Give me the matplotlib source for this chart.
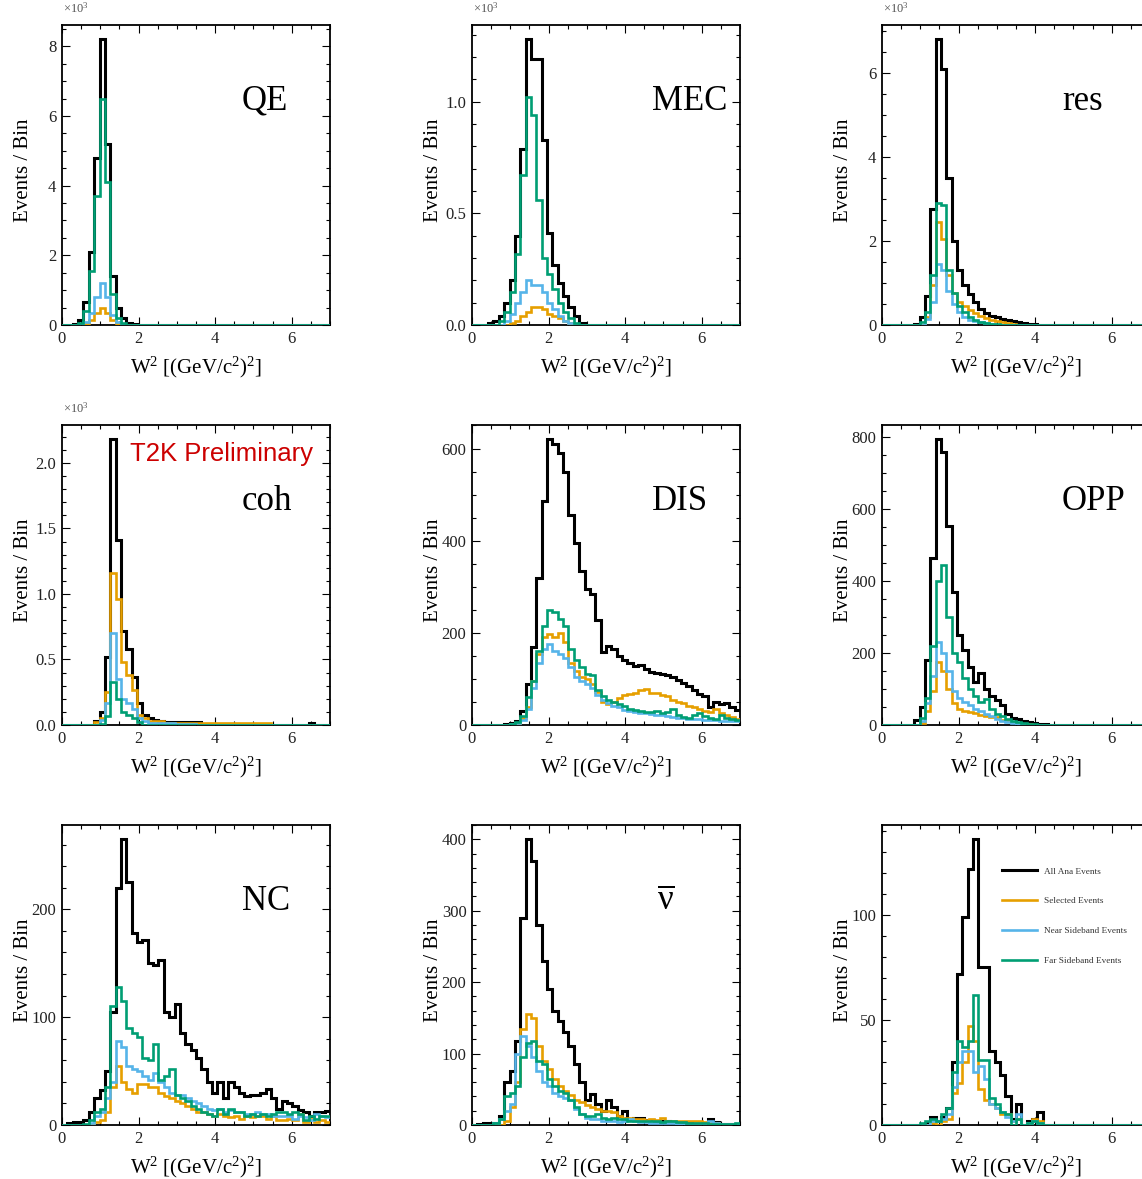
import numpy as np
import matplotlib
matplotlib.use("Agg")
import matplotlib.pyplot as plt
from matplotlib.lines import Line2D
from matplotlib.ticker import MultipleLocator, FormatStrFormatter

# ---------------- data (events per bin, W^2 bins of 0.14 from 0 to 7) -------------
W2_EDGES = np.linspace(0.0, 7.0, 51)
SERIES_LABELS = ["All Ana Events", "Selected Events", "Near Sideband Events", "Far Sideband Events"]
SERIES_COLORS = ["#000000", "#E69F00", "#56B4E9", "#009E73"]

# QE (x10^3)
QE_ALL = [0, 0, 0.03, 0.15, 0.65, 2.1, 4.8, 8.2, 5.2, 1.4, 0.5, 0.2, 0.06, 0.02] + [0] * 36
QE_SEL = [0, 0, 0, 0, 0.04, 0.15, 0.35, 0.5, 0.35, 0.15, 0.04] + [0] * 39
QE_NEAR = [0, 0, 0, 0, 0.1, 0.35, 0.8, 1.2, 0.8, 0.3, 0.08] + [0] * 39
QE_FAR = [0, 0, 0, 0.05, 0.4, 1.55, 3.7, 6.5, 4.1, 0.9, 0.2, 0.05] + [0] * 38

# MEC (x10^3)
MEC_ALL = [0, 0, 0, 0.01, 0.02, 0.04, 0.1, 0.2, 0.4, 0.79, 1.28, 1.19, 1.19, 0.83, 0.41,
           0.27, 0.19, 0.13, 0.08, 0.04, 0.01] + [0] * 29
MEC_SEL = [0, 0, 0, 0, 0, 0, 0, 0.01, 0.02, 0.04, 0.06, 0.08, 0.08, 0.07, 0.05,
           0.04, 0.03, 0.02, 0.01] + [0] * 31
MEC_NEAR = [0, 0, 0, 0, 0, 0, 0.02, 0.05, 0.1, 0.15, 0.2, 0.18, 0.18, 0.15, 0.1,
            0.07, 0.04, 0.02, 0.01] + [0] * 31
MEC_FAR = [0, 0, 0, 0, 0, 0.02, 0.06, 0.15, 0.32, 0.67, 1.02, 0.94, 0.56, 0.3, 0.23,
           0.16, 0.1, 0.06, 0.03, 0.01] + [0] * 30

# res (x10^3)
RES_ALL = [0, 0, 0, 0, 0, 0, 0.03, 0.2, 0.7, 2.75, 6.8, 6.1, 3.5, 2.0, 1.3, 0.95, 0.73,
           0.55, 0.38, 0.28, 0.22, 0.18, 0.15, 0.12, 0.1, 0.07, 0.05, 0.03, 0.02, 0.01,
           0.005] + [0] * 19
RES_SEL = [0, 0, 0, 0, 0, 0, 0, 0, 0.2, 0.95, 2.45, 2.05, 1.2, 0.75, 0.55, 0.45, 0.35,
           0.28, 0.22, 0.16, 0.12, 0.09, 0.06, 0.04, 0.02, 0.01] + [0] * 24
RES_NEAR = [0, 0, 0, 0, 0, 0, 0, 0, 0.15, 0.55, 1.45, 1.3, 0.8, 0.5, 0.3, 0.2, 0.13,
            0.09, 0.06, 0.04, 0.02, 0.01] + [0] * 28
RES_FAR = [0, 0, 0, 0, 0, 0, 0, 0.08, 0.3, 1.2, 2.9, 2.85, 1.3, 0.75, 0.45, 0.3, 0.2,
           0.13, 0.08, 0.05, 0.03, 0.02, 0.01] + [0] * 27

# coh (x10^3)
COH_ALL = [0, 0, 0, 0, 0, 0, 0.03, 0.1, 0.52, 2.18, 1.41, 0.72, 0.58, 0.37, 0.17, 0.08,
           0.05, 0.04, 0.03, 0.02, 0.02, 0.02, 0.02, 0.02, 0.02, 0.02, 0.01, 0.01, 0.01,
           0.01, 0.01, 0.01, 0.01, 0, 0, 0, 0, 0, 0, 0, 0, 0, 0, 0, 0, 0, 0.015, 0, 0, 0]
COH_SEL = [0, 0, 0, 0, 0, 0, 0.02, 0.05, 0.25, 1.16, 0.96, 0.48, 0.38, 0.27, 0.08, 0.05,
           0.03, 0.03, 0.03, 0.015, 0.015, 0.015, 0.015, 0.015, 0.015, 0.015, 0.015,
           0.015, 0.015, 0.015, 0.015, 0.015, 0.015, 0.015, 0.015, 0.015, 0.015, 0.015,
           0.015] + [0] * 11
COH_NEAR = [0, 0, 0, 0, 0, 0, 0, 0.04, 0.17, 0.7, 0.35, 0.2, 0.17, 0.12, 0.05, 0.03,
            0.015, 0.015, 0.015, 0.015, 0.015, 0.01, 0.01, 0.01, 0.01] + [0] * 25
COH_FAR = [0, 0, 0, 0, 0, 0, 0, 0.01, 0.07, 0.33, 0.2, 0.1, 0.08, 0.05, 0.02] + [0] * 35

# DIS
DIS_ALL = [0, 0, 0, 0, 0, 0, 3, 5, 8, 30, 90, 170, 320, 485, 620, 610, 590, 550, 455, 395,
           335, 295, 285, 228, 158, 172, 166, 150, 140, 135, 128, 130, 122, 115, 112, 110,
           108, 105, 98, 92, 85, 75, 68, 62, 38, 50, 45, 48, 40, 32]
DIS_SEL = [0, 0, 0, 0, 0, 0, 0, 2, 5, 15, 40, 95, 155, 190, 198, 192, 200, 180, 135, 118,
           105, 100, 88, 72, 50, 45, 50, 58, 65, 68, 70, 75, 78, 70, 70, 65, 62, 55, 50,
           48, 42, 38, 35, 30, 28, 35, 25, 22, 18, 12]
DIS_NEAR = [0, 0, 0, 0, 0, 0, 0, 2, 4, 10, 35, 80, 135, 165, 175, 160, 155, 145, 125, 105,
            95, 88, 80, 65, 55, 48, 42, 38, 32, 30, 28, 26, 25, 24, 22, 22, 20, 18, 16,
            15, 14, 12, 12, 11, 10, 10, 9, 9, 8, 8]
DIS_FAR = [0, 0, 0, 0, 0, 0, 0, 2, 6, 20, 60, 95, 160, 215, 250, 245, 230, 215, 165, 140,
           125, 110, 108, 75, 62, 55, 50, 45, 42, 35, 32, 30, 28, 28, 30, 25, 28, 35, 22,
           18, 15, 22, 25, 20, 15, 12, 22, 15, 12, 10]

# OPP
OPP_ALL = [0, 0, 0, 0, 0, 0, 15, 50, 180, 465, 795, 760, 555, 370, 250, 210, 160, 120,
           145, 100, 80, 70, 55, 30, 20, 18, 10, 8, 5, 3, 2] + [0] * 19
OPP_SEL = [0, 0, 0, 0, 0, 0, 0, 5, 40, 95, 175, 150, 100, 60, 45, 40, 35, 32, 28, 25,
           22, 22, 15, 10, 8, 5, 3, 2] + [0] * 22
OPP_NEAR = [0, 0, 0, 0, 0, 0, 0, 10, 60, 135, 232, 200, 150, 95, 75, 65, 55, 45, 38, 30,
            25, 18, 12, 8, 5, 3] + [0] * 24
OPP_FAR = [0, 0, 0, 0, 0, 0, 0, 20, 75, 220, 400, 445, 300, 200, 175, 130, 100, 80, 65,
           72, 45, 30, 25, 18, 12, 8, 5, 3, 2, 1] + [0] * 20

# NC
NC_ALL = [0, 2, 3, 3, 5, 12, 25, 32, 50, 105, 220, 265, 225, 178, 170, 172, 150, 148, 153,
          105, 100, 112, 85, 75, 70, 62, 52, 40, 30, 40, 25, 40, 35, 30, 27, 28, 28, 30,
          33, 25, 15, 22, 20, 18, 14, 12, 8, 12, 12, 13]
NC_SEL = [0, 0, 0, 0, 0, 0, 3, 5, 12, 35, 55, 40, 33, 30, 38, 38, 35, 35, 30, 27, 25, 22,
          20, 18, 15, 12, 12, 10, 8, 10, 8, 7, 8, 6, 8, 7, 8, 8, 6, 8, 5, 5, 6, 5, 10, 3,
          6, 3, 5, 3]
NC_NEAR = [0, 0, 0, 0, 0, 2, 8, 12, 25, 40, 78, 72, 55, 52, 50, 45, 42, 48, 40, 35, 30,
           28, 28, 25, 22, 20, 18, 15, 14, 15, 12, 14, 12, 12, 10, 10, 12, 10, 10, 8, 8,
           8, 8, 6, 8, 7, 5, 10, 8, 7]
NC_FAR = [0, 0, 0, 0, 1, 5, 12, 15, 35, 110, 128, 115, 90, 85, 82, 62, 60, 75, 42, 45, 52,
          28, 25, 22, 18, 15, 12, 10, 8, 15, 10, 15, 12, 12, 8, 10, 8, 10, 8, 10, 12, 12,
          10, 12, 10, 5, 8, 6, 8, 8]

# anti-neutrino
NUB_ALL = [0, 1, 3, 3, 3, 13, 60, 75, 118, 290, 400, 370, 280, 230, 190, 160, 145, 130,
           110, 85, 60, 35, 43, 30, 20, 35, 25, 12, 20, 8, 10, 10, 7, 7, 5, 5, 5, 4, 3, 3,
           3, 2, 2, 3, 8, 4, 2, 2, 2, 2]
NUB_SEL = [0, 0, 0, 0, 0, 0, 5, 25, 60, 135, 155, 150, 110, 90, 78, 65, 55, 48, 42, 35,
           32, 28, 25, 22, 20, 20, 18, 12, 10, 10, 8, 8, 7, 8, 7, 10, 6, 6, 5, 5, 6, 5, 5,
           4, 3, 3, 2, 2, 2, 2]
NUB_NEAR = [0, 0, 0, 0, 3, 8, 20, 30, 100, 125, 110, 95, 75, 60, 55, 45, 40, 38, 35, 22,
            15, 10, 8, 8, 6, 5, 5, 4, 5, 8, 5, 4, 4, 3, 3, 3, 3, 3, 2, 2, 2, 2, 2, 2, 5, 3,
            2, 2, 2, 2]
NUB_FAR = [0, 0, 0, 0, 3, 8, 40, 45, 55, 95, 115, 118, 90, 85, 65, 55, 48, 45, 35, 25,
           15, 12, 12, 15, 10, 8, 10, 8, 8, 6, 5, 5, 6, 5, 5, 4, 5, 5, 4, 4, 3, 3, 3, 3, 2,
           2, 2, 2, 2, 3]

# bottom-right panel
BR_ALL = [0, 0, 0, 0, 0, 0, 0, 0, 1, 4, 2, 4, 8, 30, 72, 99, 122, 136, 75, 75, 35, 30,
          24, 14, 3, 10, 0, 2, 3, 6] + [0] * 20
BR_SEL = [0, 0, 0, 0, 0, 0, 0, 0, 0, 1, 0, 2, 3, 15, 20, 30, 47, 40, 17, 12, 10, 8, 5,
          5, 2, 3, 0, 1, 3, 2] + [0] * 20
BR_NEAR = [0, 0, 0, 0, 0, 0, 0, 0, 0, 2, 2, 3, 5, 18, 30, 35, 35, 25, 28, 22, 10, 8, 6,
           4, 2, 5, 0, 1, 2, 1] + [0] * 20
BR_FAR = [0, 0, 0, 0, 0, 0, 0, 1, 2, 3, 2, 5, 8, 25, 40, 37, 40, 62, 31, 31, 13, 10, 6,
          5, 0, 3, 0, 1, 2, 1] + [0] * 20

PANEL_NAMES = ["QE", "MEC", "res", "coh", "DIS", "OPP", "NC", r"$\overline{\mathrm{ν}}$", ""]
PANEL_DATA = [
    (QE_ALL, QE_SEL, QE_NEAR, QE_FAR),
    (MEC_ALL, MEC_SEL, MEC_NEAR, MEC_FAR),
    (RES_ALL, RES_SEL, RES_NEAR, RES_FAR),
    (COH_ALL, COH_SEL, COH_NEAR, COH_FAR),
    (DIS_ALL, DIS_SEL, DIS_NEAR, DIS_FAR),
    (OPP_ALL, OPP_SEL, OPP_NEAR, OPP_FAR),
    (NC_ALL, NC_SEL, NC_NEAR, NC_FAR),
    (NUB_ALL, NUB_SEL, NUB_NEAR, NUB_FAR),
    (BR_ALL, BR_SEL, BR_NEAR, BR_FAR),
]
# y tick settings: (major, minor, format, x10^3 scale)
Y_TICKS = [
    (2, 0.5, "%d", True),
    (0.5, 0.1, "%.1f", True),
    (2, 0.5, "%d", True),
    (0.5, 0.1, "%.1f", True),
    (200, 50, "%d", False),
    (200, 50, "%d", False),
    (100, 20, "%d", False),
    (100, 20, "%d", False),
    (50, 10, "%d", False),
]

# ---------------- figure -------------
plt.rcParams["font.family"] = ["Liberation Serif", "DejaVu Serif"]
plt.rcParams["mathtext.fontset"] = "custom"
plt.rcParams["mathtext.rm"] = "Liberation Serif"
plt.rcParams["mathtext.it"] = "Liberation Serif:italic"
plt.rcParams["mathtext.bf"] = "Liberation Serif:bold"
plt.rcParams["mathtext.fallback"] = "stix"

FW, FH = 1142, 1179
fig = plt.figure(figsize=(FW / 100, FH / 100), dpi=100)

col_left = [62, 472, 882]
row_bottom = [325, 725, 1125]
AX_W, AX_H = 268, 300
LINE_WIDTHS = [2.2, 1.9, 1.9, 1.9]

for idx in range(9):
    r, c = divmod(idx, 3)
    ax = fig.add_axes([col_left[c] / FW, 1 - row_bottom[r] / FH, AX_W / FW, AX_H / FH])
    vals = PANEL_DATA[idx]
    for v, col, lw in zip(vals, SERIES_COLORS, LINE_WIDTHS):
        ax.stairs(v, W2_EDGES, color=col, linewidth=lw, baseline=None, zorder=3)
    ax.set_xlim(0, 7)
    ax.set_ylim(0, 1.05 * max(vals[0]))

    major, minor, fmt, scaled = Y_TICKS[idx]
    ax.xaxis.set_major_locator(MultipleLocator(2))
    ax.xaxis.set_minor_locator(MultipleLocator(0.5))
    ax.yaxis.set_major_locator(MultipleLocator(major))
    ax.yaxis.set_minor_locator(MultipleLocator(minor))
    ax.yaxis.set_major_formatter(FormatStrFormatter(fmt))
    ax.tick_params(which="both", direction="in", top=True, right=True,
                   labelsize=12, labelcolor="#222222", width=0.8)
    ax.tick_params(which="major", length=6, pad=4)
    ax.tick_params(which="minor", length=3)
    for sp in ax.spines.values():
        sp.set_linewidth(1.3)

    ax.set_xlabel(r"W$^{2}$ [(GeV/c$^{2}$)$^{2}$]", fontsize=15)
    ax.xaxis.set_label_coords(0.5, -0.1)
    ax.set_ylabel("Events / Bin", fontsize=15)
    ax.yaxis.set_label_coords(-0.11, 0.515)

    if scaled:
        ax.text(0.005, 1.0 + 12 / AX_H, r"$\times$10$^{3}$", transform=ax.transAxes,
                fontsize=9, color="#555555", ha="left", va="baseline")

    if PANEL_NAMES[idx]:
        xpos = 0.69 if idx == 7 else 0.672
        ax.text(xpos, 0.717, PANEL_NAMES[idx], transform=ax.transAxes,
                fontsize=25, ha="left", va="baseline", zorder=4)

    if idx == 3:
        ax.text(0.254, 0.88, "T2K Preliminary", transform=ax.transAxes,
                fontsize=18.5, color="#CC0000", family="Liberation Sans",
                ha="left", va="baseline", zorder=4)

    if idx == 8:
        handles = [Line2D([], [], color=col, linewidth=lw)
                   for col, lw in zip(SERIES_COLORS, LINE_WIDTHS)]
        ax.legend(handles, SERIES_LABELS, loc="upper left", bbox_to_anchor=(0.448, 0.86),
                  frameon=False, fontsize=6.7, handlelength=3.8, handletextpad=0.7,
                  labelspacing=2.3, borderpad=0, borderaxespad=0, labelcolor="#333333")

fig.savefig("out.png", dpi=100)
